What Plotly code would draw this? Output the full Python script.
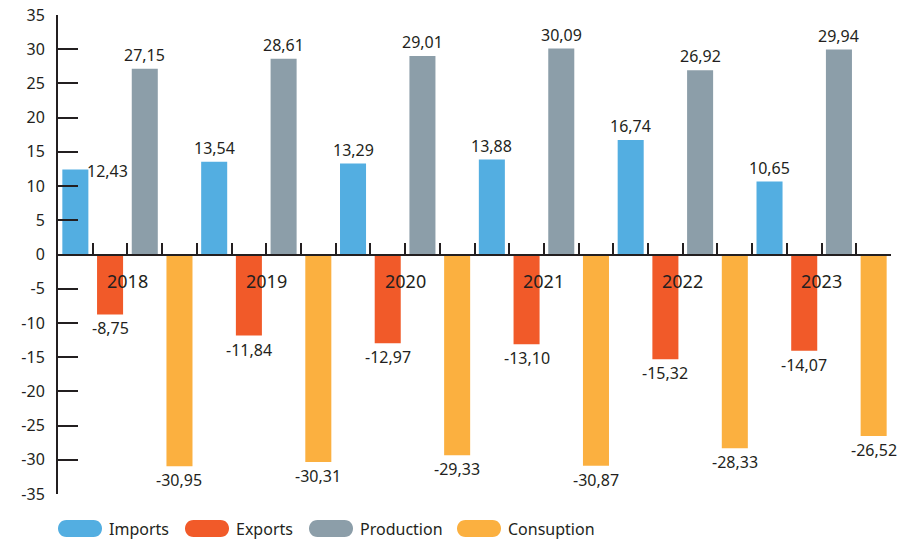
import plotly.graph_objects as go

years = ["2018", "2019", "2020", "2021", "2022", "2023"]
series_names = ["Imports", "Exports", "Production", "Consuption"]
imports = [12.43, 13.54, 13.29, 13.88, 16.74, 10.65]
exports = [-8.75, -11.84, -12.97, -13.10, -15.32, -14.07]
production = [27.15, 28.61, 29.01, 30.09, 26.92, 29.94]
consumption = [-30.95, -30.31, -29.33, -30.87, -28.33, -26.52]
y_tickvals = [-35, -30, -25, -20, -15, -10, -5, 0, 5, 10, 15, 20, 25, 30, 35]

colors = ["#53AEE1", "#F15A29", "#8C9EA9", "#FBB040"]
text_color = "#231F20"
FONT = "Noto Sans"

W, H = 918, 540
L, R, T, B = 58, 27, 15, 46
plot_w = W - L - R
plot_h = H - T - B


def px(x):
    return (x - L) / plot_w


def py(y):
    return (H - B - y) / plot_h


def fmt(v):
    return f"{v:.2f}".replace(".", ",")


all_series = [imports, exports, production, consumption]
n_series = len(all_series)

fig = go.Figure()
annotations = []
for k, (name, vals) in enumerate(zip(series_names, all_series)):
    xs = [i * n_series + k for i in range(len(years))]
    fig.add_trace(go.Bar(x=xs, y=vals, width=0.75, name=name,
                         marker=dict(color=colors[k], line=dict(width=0)),
                         showlegend=False))
    for i, (x, v) in enumerate(zip(xs, vals)):
        if k == 0 and i == 0:
            annotations.append(dict(x=x, y=v, text=fmt(v), showarrow=False,
                                    xanchor="center", yanchor="middle",
                                    xshift=32, yshift=-2))
        elif v >= 0:
            annotations.append(dict(x=x, y=v, text=fmt(v), showarrow=False,
                                    xanchor="center", yanchor="bottom", yshift=1))
        else:
            annotations.append(dict(x=x, y=v, text=fmt(v), showarrow=False,
                                    xanchor="center", yanchor="top", yshift=-1))

for i, yr in enumerate(years):
    annotations.append(dict(x=i * n_series + (n_series - 1) / 2, y=0, text=yr,
                            showarrow=False, xanchor="center", yanchor="middle",
                            yshift=-26, font=dict(size=18)))

# custom legend (pill markers)
shapes = []
legend_left = [58, 185, 309, 457]
leg_y = 528.5
r = 8.5
pw = 44
for k, name in enumerate(series_names):
    c = 4 / 3 * r
    path = (f"M {r},{-r} L {pw - r},{-r} C {pw - r + c},{-r} {pw - r + c},{r} {pw - r},{r} "
            f"L {r},{r} C {r - c},{r} {r - c},{-r} {r},{-r} Z")
    shapes.append(dict(type="path", xref="paper", yref="paper",
                       xsizemode="pixel", ysizemode="pixel",
                       xanchor=px(legend_left[k]), yanchor=py(leg_y),
                       path=path, fillcolor=colors[k], line=dict(width=0)))
    annotations.append(dict(xref="paper", yref="paper", x=px(legend_left[k] + pw + 5),
                            y=py(leg_y), text=name, showarrow=False,
                            xanchor="left", yanchor="middle"))

n_slots = len(years) * n_series
fig.update_layout(
    width=W, height=H,
    margin=dict(l=L, r=R, t=T, b=B, autoexpand=False),
    paper_bgcolor="white", plot_bgcolor="white",
    font=dict(family=FONT, size=16, color=text_color),
    barmode="overlay",
    annotations=annotations,
    shapes=shapes,
    xaxis=dict(range=[-0.5, n_slots - 0.5], anchor="free", position=0.5,
               automargin=False,
               showline=True, linecolor=text_color, linewidth=2,
               ticks="inside", ticklen=11, tickwidth=2, tickcolor=text_color,
               tickvals=[j - 0.5 for j in range(n_slots + 1)],
               showticklabels=False, showgrid=False, zeroline=False),
    yaxis=dict(range=[-35, 35], automargin=False,
               showline=True, linecolor=text_color, linewidth=2,
               ticks="inside", ticklen=20, tickwidth=2, tickcolor=text_color,
               tickvals=y_tickvals, ticktext=[str(v) for v in y_tickvals],
               ticklabelstandoff=8,
               showgrid=False, zeroline=False),
)

fig.write_html("out.html")
